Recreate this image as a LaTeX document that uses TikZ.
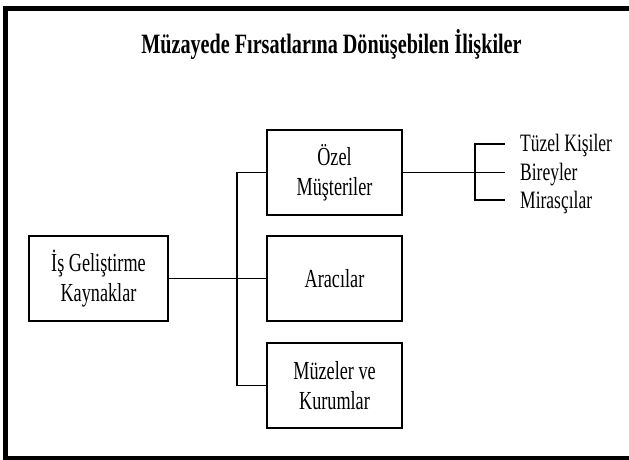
\documentclass[tikz,border=0pt]{standalone}
\usepackage{fontspec}
\setmainfont{Liberation Serif}
\newfontfamily\boxfont{Liberation Serif}[FakeStretch=0.70]
\newfontfamily\titlefont{Liberation Serif}[FakeStretch=0.72]
\newcommand\lnstrut{\rule[-3pt]{0pt}{23pt}}
\begin{document}
\begin{tikzpicture}[x=1pt,y=-1pt,
  box/.style={draw, line width=1.2pt, align=center, inner sep=0pt,
    font=\boxfont\fontsize{26}{30}\selectfont},
  wire/.style={line width=1.2pt},
  lbl/.style={anchor=base west, inner sep=0pt, font=\boxfont\fontsize{25}{28}\selectfont}]
\useasboundingbox (0,0) rectangle (629,460);
\clip (0,0) rectangle (629,460);
\draw[line width=5pt] (700,8.5) -- (5.5,8.5) -- (5.5,458.5) -- (700,458.5);
\node[anchor=base, inner sep=0pt, font=\titlefont\bfseries\fontsize{28}{30}\selectfont] (title) at (331.5,54) {Müzayede Fırsatlarına Dönüşebilen İlişkiler};
\node[box, minimum width=139pt, minimum height=85pt] (ig) at (98.5,278.5) {\lnstrut İş Geliştirme\\\lnstrut Kaynaklar};
\node[box, minimum width=135pt, minimum height=85pt] (oz) at (334.5,172.5) {\lnstrut Özel\\\lnstrut Müşteriler};
\node[box, minimum width=135pt, minimum height=85pt] (ar) at (334.5,278.5) {\lnstrut Aracılar};
\node[box, minimum width=135pt, minimum height=85pt] (mz) at (334.5,385.5) {\lnstrut Müzeler ve\\\lnstrut Kurumlar};
\coordinate (bt) at (237,172.5);
\coordinate (bb) at (237,385.5);
\draw[wire] (ig.east) -- (ar.west);
\draw[wire] (oz.west) -- (bt) -- (bb) -- (mz.west);
\coordinate (rt) at (475,144);
\coordinate (rb) at (475,200);
\coordinate (et) at (505,144);
\coordinate (em) at (505,172.5);
\coordinate (eb) at (505,200);
\draw[wire] (oz.east) -- (em);
\draw[wire] (et) -- (rt) -- (rb) -- (eb);
\node[lbl] (t1) at (520,151.5) {Tüzel Kişiler};
\node[lbl] (t2) at (520,180) {Bireyler};
\node[lbl] (t3) at (520,208) {Mirasçılar};
\end{tikzpicture}
\end{document}
